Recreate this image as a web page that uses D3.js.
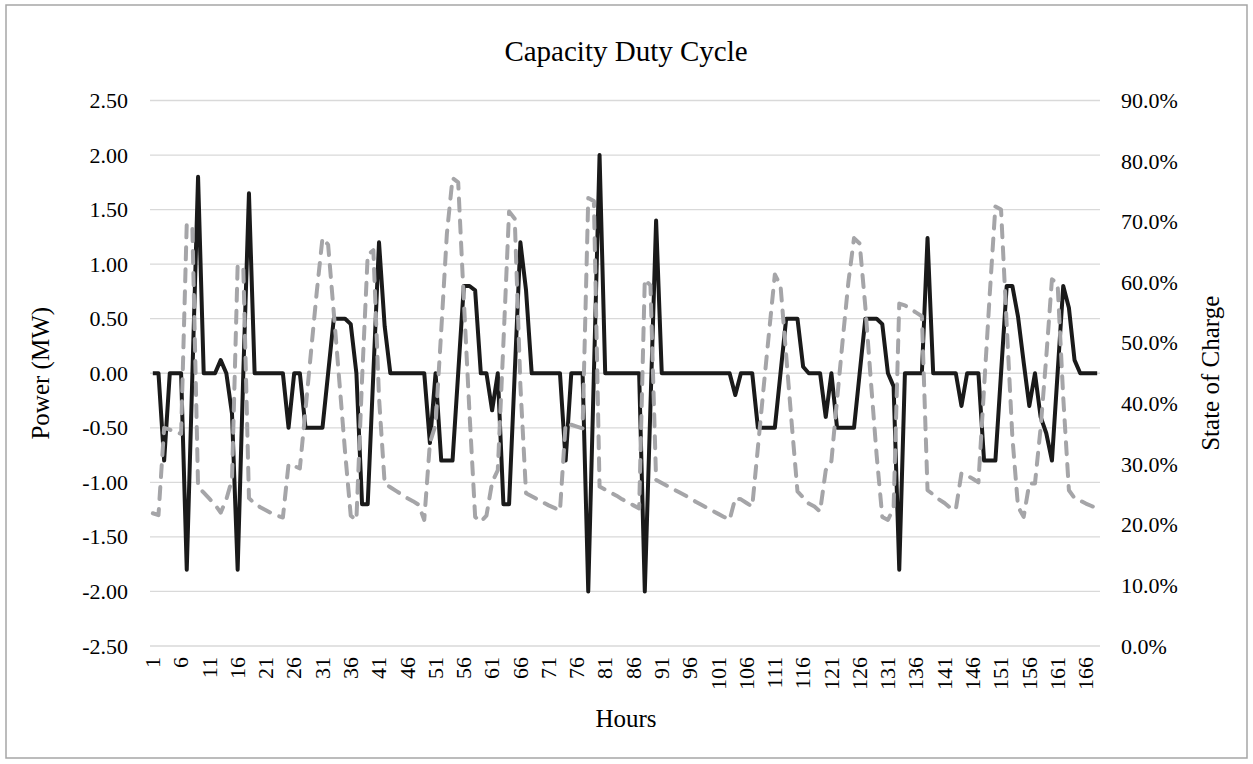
<!DOCTYPE html>
<html>
  <head>
    <meta charset="utf-8" />
    <title>Capacity Duty Cycle</title>
    <style>
      body,
      html {
        margin: 0;
        padding: 0;
        background: #fff;
      }
      svg text {
        font-family: 'Liberation Serif', 'Times New Roman', serif;
        fill: #000;
      }
    </style>
  </head>
  <body>
    <script src="https://cdn.jsdelivr.net/npm/d3@7"></script>
    <script>
      const width = 1253;
      const height = 764;

      // hours 1..168 on the category axis
      const hours = d3.range(1, 169);
      const hourLabels = hours.filter((h) => (h - 1) % 5 === 0);

      // power (MW), one value per hour
      const power = [
        0, 0, -0.8, 0, 0, 0, -1.8, 0, 1.8, 0,
        0, 0, 0.12, 0, -0.37, -1.8, 0, 1.65, 0, 0,
        0, 0, 0, 0, -0.5, 0, 0, -0.5, -0.5, -0.5,
        -0.5, 0, 0.5, 0.5, 0.5, 0.45, 0, -1.2, -1.2, 0,
        1.2, 0.43, 0, 0, 0, 0, 0, 0, 0, -0.64,
        0, -0.8, -0.8, -0.8, 0, 0.8, 0.8, 0.76, 0, 0,
        -0.34, 0, -1.2, -1.2, 0, 1.2, 0.76, 0, 0, 0,
        0, 0, 0, -0.8, 0, 0, 0, -2, 0, 2,
        0, 0, 0, 0, 0, 0, 0, -2, -0.3, 1.4,
        0, 0, 0, 0, 0, 0, 0, 0, 0, 0,
        0, 0, 0, -0.2, 0, 0, 0, -0.5, -0.5, -0.5,
        -0.5, 0, 0.5, 0.5, 0.5, 0.06, 0, 0, 0, -0.4,
        0, -0.5, -0.5, -0.5, -0.5, 0, 0.5, 0.5, 0.5, 0.45,
        0, -0.12, -1.8, 0, 0, 0, 0, 1.24, 0, 0,
        0, 0, 0, -0.3, 0, 0, 0, -0.8, -0.8, -0.8,
        0, 0.8, 0.8, 0.52, 0.1, -0.3, 0, -0.4, -0.55, -0.8,
        0, 0.8, 0.6, 0.12, 0, 0, 0, 0
      ];

      // state of charge (%), one value per hour
      const soc = [
        21.9, 21.6, 36.0, 35.7, 35.3, 35.0, 69.7, 68.9, 26.3, 25.3,
        24.3, 23.3, 22.0, 24.2, 27.5, 62.8, 62.5, 24.4, 23.5, 22.9,
        22.4, 21.9, 21.5, 21.2, 30.0, 29.7, 29.3, 39.0, 48.8, 58.5,
        67.3, 66.2, 55.0, 43.5, 32.0, 21.5, 20.8, 44.0, 64.5, 65.3,
        41.0, 26.8, 26.2, 25.6, 25.0, 24.4, 23.9, 23.3, 20.8, 33.5,
        36.5, 52.0, 68.0, 77.2, 76.5, 57.0, 38.5, 21.3, 20.5, 21.5,
        27.0, 29.0, 50.0, 71.7, 70.5, 43.0, 25.2, 24.7, 24.2, 23.7,
        23.2, 22.8, 22.3, 36.7, 36.5, 36.2, 35.9, 73.9, 73.4, 26.3,
        25.8, 25.3, 24.8, 24.2, 23.7, 23.2, 22.7, 60.5, 59.5, 27.4,
        26.9, 26.4, 25.9, 25.4, 24.9, 24.4, 23.8, 23.3, 22.8, 22.3,
        21.8, 21.3, 20.8, 24.4, 24.2, 23.6, 23.0, 32.7, 42.5, 52.0,
        61.3, 59.5, 48.0, 36.5, 25.5, 24.5, 23.5, 23.0, 22.2, 29.0,
        30.5, 40.6, 50.5, 60.0, 67.3, 66.4, 56.0, 43.5, 31.5, 21.3,
        20.8, 22.8, 56.5, 56.2, 55.6, 55.0, 54.4, 25.7, 25.0, 24.2,
        23.6, 22.8, 22.5, 28.5, 28.1, 27.6, 27.0, 42.6, 58.0, 72.5,
        72.0, 53.0, 34.5, 23.0, 21.3, 26.8, 26.8, 36.0, 47.7, 60.5,
        59.8, 41.0, 25.7, 24.4, 24.0, 23.5, 23.1, 22.7
      ];

      const powerTicks = [-2.5, -2, -1.5, -1, -0.5, 0, 0.5, 1, 1.5, 2, 2.5];
      const socTicks = [0, 10, 20, 30, 40, 50, 60, 70, 80, 90];

      const plot = { left: 150, right: 1100, top: 100.5, bottom: 646 };

      const svg = d3
        .select('body')
        .append('svg')
        .attr('width', width)
        .attr('height', height);

      // chart border
      svg
        .append('rect')
        .attr('x', 6)
        .attr('y', 5)
        .attr('width', 1241)
        .attr('height', 753)
        .attr('fill', 'none')
        .attr('stroke', '#a6a6a6')
        .attr('stroke-width', 1.5);

      const x = d3.scaleBand().domain(hours).range([plot.left, plot.right]);
      const xc = (h) => x(h) + x.bandwidth() / 2;
      const yL = d3.scaleLinear().domain([-2.5, 2.5]).range([plot.bottom, plot.top]);
      const yR = d3.scaleLinear().domain([0, 90]).range([plot.bottom, plot.top]);

      // gridlines
      svg
        .append('g')
        .selectAll('line')
        .data(powerTicks)
        .enter()
        .append('line')
        .attr('x1', plot.left)
        .attr('x2', plot.right)
        .attr('y1', (d) => yL(d))
        .attr('y2', (d) => yL(d))
        .attr('stroke', '#d9d9d9')
        .attr('stroke-width', 1.3);

      // left axis (plain hyphen for negatives, as in the original)
      const leftAxis = svg
        .append('g')
        .attr('transform', 'translate(' + (plot.left - 22) + ',0)')
        .call(d3.axisLeft(yL).tickValues(powerTicks).tickSize(0).tickPadding(0).tickFormat((d) => d.toFixed(2)));
      leftAxis.select('.domain').remove();
      leftAxis.selectAll('text').attr('font-size', 22).attr('font-family', 'Liberation Serif, Times New Roman, serif');

      // right axis
      const rightAxis = svg
        .append('g')
        .attr('transform', 'translate(' + (plot.right + 21) + ',0)')
        .call(d3.axisRight(yR).tickValues(socTicks).tickSize(0).tickPadding(0).tickFormat((d) => d.toFixed(1) + '%'));
      rightAxis.select('.domain').remove();
      rightAxis.selectAll('text').attr('font-size', 22).attr('font-family', 'Liberation Serif, Times New Roman, serif');

      // bottom category labels, rotated
      const bottomAxis = svg
        .append('g')
        .attr('transform', 'translate(0,' + (plot.bottom + 11) + ')')
        .call(d3.axisBottom(x).tickValues(hourLabels).tickSize(0).tickPadding(0));
      bottomAxis.select('.domain').remove();
      bottomAxis
        .selectAll('text')
        .attr('font-size', 22)
        .attr('font-family', 'Liberation Serif, Times New Roman, serif')
        .attr('transform', 'rotate(-90)')
        .attr('text-anchor', 'end')
        .attr('x', 0)
        .attr('y', 0)
        .attr('dy', '0.33em');

      // titles
      svg
        .append('text')
        .attr('x', 626)
        .attr('y', 61)
        .attr('text-anchor', 'middle')
        .attr('font-size', 29)
        .text('Capacity Duty Cycle');

      svg
        .append('text')
        .attr('x', 626)
        .attr('y', 727)
        .attr('text-anchor', 'middle')
        .attr('font-size', 25)
        .text('Hours');

      svg
        .append('text')
        .attr('transform', 'translate(49,' + yL(0) + ') rotate(-90)')
        .attr('text-anchor', 'middle')
        .attr('font-size', 25)
        .text('Power (MW)');

      svg
        .append('text')
        .attr('transform', 'translate(1219,' + yL(0) + ') rotate(-90)')
        .attr('text-anchor', 'middle')
        .attr('font-size', 25)
        .text('State of Charge');

      // power line
      const powerLine = d3
        .line()
        .x((d, i) => xc(hours[i]))
        .y((d) => yL(d));

      svg
        .append('path')
        .datum(power)
        .attr('d', powerLine)
        .attr('fill', 'none')
        .attr('stroke', '#1a1a1a')
        .attr('stroke-width', 4)
        .attr('stroke-linejoin', 'round');

      // state of charge line, dashed
      const socLine = d3
        .line()
        .x((d, i) => xc(hours[i]))
        .y((d) => yR(d));

      svg
        .append('path')
        .datum(soc)
        .attr('d', socLine)
        .attr('fill', 'none')
        .attr('stroke', '#a5a5a8')
        .attr('stroke-width', 4)
        .attr('stroke-linejoin', 'round')
        .attr('stroke-linecap', 'round')
        .attr('stroke-dasharray', '12,10');
    </script>
  </body>
</html>
